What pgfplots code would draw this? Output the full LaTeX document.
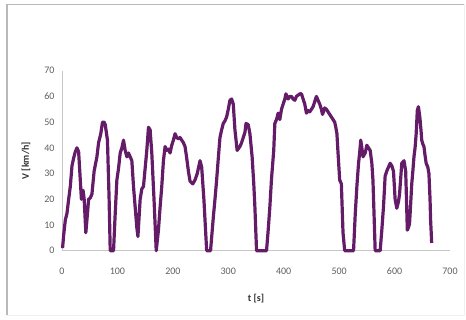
\documentclass[border=0pt]{standalone}
\usepackage{pgfplots}
\pgfplotsset{compat=1.18}
\usepackage{fontspec}
\setmainfont{Carlito}
\definecolor{linepurple}{RGB}{100,28,104}
\definecolor{ticktext}{RGB}{95,95,95}
\begin{document}
\begin{tikzpicture}
\path[use as bounding box] (-62pt,-69.3pt) rectangle (404pt,250.7pt);
\draw[gray!55, line width=1.2pt] (-55pt,-64pt) -- (-55pt,246.5pt) -- (402pt,246.5pt);
\draw[gray!12, line width=0.8pt] (402pt,246.5pt) -- (402pt,-65pt) -- (-55pt,-65pt);
\begin{axis}[
  at={(0,0)}, anchor=south west,
  scale only axis, width=388pt, height=180pt,
  xmin=0, xmax=700, ymin=0, ymax=70,
  axis x line=bottom, axis y line=left,
  axis line style={gray!45, line width=0.6pt, -},
  xtick={0,100,...,700}, ytick={0,10,...,70},
  major tick length=0pt,
  tick style={draw=none},
  ticklabel style={font=\fontsize{10}{12}\selectfont, text=ticktext},
  /pgf/number format/assume math mode=true,
  xticklabel style={yshift=-14pt},
  yticklabel style={xshift=-4pt},
  xlabel={\textbf{t [s]}},
  ylabel={\textbf{V [km/h]}},
  label style={font=\fontsize{10}{12}\selectfont, text=black!80},
  xlabel style={yshift=-12pt},
  ylabel style={yshift=7pt},
  clip=false,
]
\addplot[linepurple, line width=3.2pt, line join=round] coordinates {
(1,1) (3,6) (6,12) (9,14.5) (12,20) (15,25) (18,33) (21,36) (24,38.5) (27,40) (30,38.5) (33,27.5)
(35,20) (38,23.5) (40,20) (43,7) (46,14.5) (48,20) (51,20.5) (54,22) (58,31) (63,36.5) (66,42)
(70,45.5) (73,50) (76,50) (78,49) (82,43) (85,20) (87,0) (93,0) (96,14.5) (99,27.5) (102,32)
(105,38) (108,40) (111,43) (114,39) (117,36.5) (120,38) (123,36.5) (126,35) (129,25) (132,17)
(135,9) (137,5.5) (141,20) (144,24) (147,25) (150,32) (153,39) (156,48) (159,47) (162,38)
(166,20) (170,0) (174,8) (177,17) (180,25) (183,35) (186,40.5) (189,39) (192,39.5) (195,38)
(198,41) (201,43) (204,45.5) (207,44) (210,43.5) (213,44) (216,43) (219,42) (222,40.5)
(225,36) (228,31) (231,27) (236,26) (240,27.5) (244,30) (249,35) (252,32.5) (256,20) (261,0)
(268,0) (273,13) (276,20) (279,27.5) (282,36) (285,44) (288,47) (291,49.5) (294,50.5) (297,52)
(300,55) (303,58.5) (306,59) (309,57) (312,47) (316,39) (321,40.5) (324,42) (327,44) (330,46)
(332,49.5) (336,49) (339,45.5) (343,36.5) (346,26) (348,17) (351,0) (369,0) (372,8) (375,17)
(378,28) (382,39) (384,49.5) (387,51) (390,53.5) (393,51) (396,55) (399,57) (402,59) (404,61)
(408,59) (411,60) (414,60) (417,59) (420,58.5) (423,60) (426,60.5) (429,61) (432,61) (435,59)
(438,57) (441,53.5) (444,54.5) (447,54) (450,55) (453,56) (456,58) (459,60) (462,58.5)
(465,57) (468,55) (470,53) (474,55.5) (477,55) (480,54) (483,53) (486,52) (489,51) (492,50)
(494,48) (496,45.5) (498,38) (501,27.5) (504,26) (507,7) (510,0) (526,0) (529,14) (532,25)
(535,34) (537,38) (539,43) (541,40) (543,36.5) (547,38) (550,41) (553,40) (556,39) (559,34)
(561,27.5) (563,14) (565,0) (574,0) (577,8) (580,17) (583,29) (586,31) (589,32.5) (592,34)
(595,33) (598,31) (601,20) (604,16.5) (607,19) (609,22) (611,28) (613,34) (617,35) (620,31)
(621,24) (623,8) (625,9) (627,10.5) (629,18) (631,26) (633,31) (635,36.5) (637,40) (639,45.5)
(641,54.5) (643,56) (645,53) (646,51) (648,46) (649,43) (651,41.5) (653,40.5) (655,37)
(657,34) (660,32.5) (662,30) (664,20) (665,12) (667,3)
};
\end{axis}
\end{tikzpicture}
\end{document}
